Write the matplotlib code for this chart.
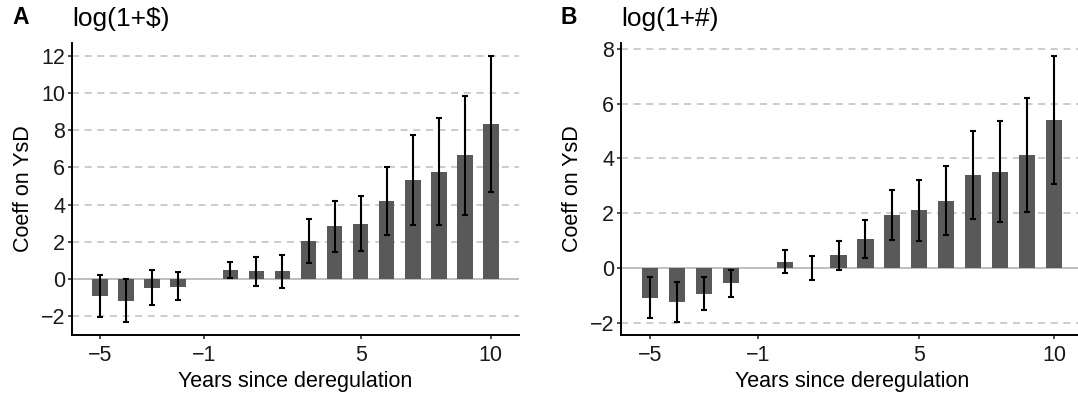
import matplotlib
matplotlib.use("Agg")
import matplotlib.pyplot as plt
import numpy as np

plt.rcParams['font.family'] = ['Liberation Sans', 'DejaVu Sans']

years = [-5, -4, -3, -2, 0, 1, 2, 3, 4, 5, 6, 7, 8, 9, 10]

# panel A: log(1+$)
coef_a = [-0.94, -1.19, -0.49, -0.43, 0.47, 0.41, 0.41, 2.02, 2.83, 2.97, 4.17, 5.35, 5.78, 6.69, 8.37]
lo_a = [-2.09, -2.32, -1.44, -1.17, 0.02, -0.41, -0.50, 0.83, 1.43, 1.49, 2.38, 2.92, 2.92, 3.45, 4.70]
hi_a = [0.22, 0.0, 0.47, 0.38, 0.90, 1.15, 1.28, 3.24, 4.20, 4.45, 6.0, 7.76, 8.66, 9.85, 12.0]

# panel B: log(1+#)
coef_b = [-1.08, -1.23, -0.94, -0.54, 0.24, 0.01, 0.49, 1.06, 1.94, 2.12, 2.45, 3.40, 3.50, 4.11, 5.40]
lo_b = [-1.81, -1.94, -1.52, -1.05, -0.18, -0.42, -0.07, 0.37, 1.04, 1.00, 1.22, 1.80, 1.68, 2.05, 3.07]
hi_b = [-0.33, -0.51, -0.33, -0.04, 0.67, 0.47, 1.00, 1.76, 2.84, 3.20, 3.72, 5.00, 5.36, 6.20, 7.72]

xticks = [-5, -1, 5, 10]
yticks_a = [-2, 0, 2, 4, 6, 8, 10, 12]
yticks_b = [-2, 0, 2, 4, 6, 8]

W, H = 1078, 398
fig = plt.figure(figsize=(W / 100, H / 100), dpi=100)


def panel(rect, coef, lo, hi, yticks, letter, title):
    ax = fig.add_axes(rect)
    x = np.array(years)
    c = np.array(coef)
    err = [c - np.array(lo), np.array(hi) - c]
    ax.bar(x, c, width=0.6, color='#595959', zorder=2)
    ax.errorbar(x, c, yerr=err, fmt='none', ecolor='black', elinewidth=1.5,
                capsize=2.2, capthick=1.5, zorder=3)
    # y range with 5% padding like ggplot
    ymin, ymax = min(lo), max(hi)
    pad = (ymax - ymin) * 0.05
    ax.set_ylim(ymin - pad, ymax + pad)
    ax.set_xlim(-6.08, 11.08)
    for t in yticks:
        if t != 0:
            ax.axhline(t, color='#c8c8c8', lw=1.3, ls=(0, (3.9, 3.1)), zorder=1)
    ax.axhline(0, color='#bebebe', lw=1.4, zorder=1)
    ax.set_xticks(xticks)
    ax.set_yticks(yticks)
    for s in ['top', 'right']:
        ax.spines[s].set_visible(False)
    for s in ['left', 'bottom']:
        ax.spines[s].set_linewidth(1.4)
        ax.spines[s].set_color('black')
    ax.tick_params(labelsize=15.5, length=3, width=1.2, color='#333333', pad=2,
                   labelcolor='#1a1a1a')
    ax.tick_params(axis='x', pad=4.2)
    ax.set_xlabel('Years since deregulation', fontsize=15.5, labelpad=3.5)
    ax.set_ylabel('Coeff on YsD', fontsize=15.5, labelpad=5)
    x0 = rect[0]
    fig.text(x0 - 60 / W, 1 - 24 / H, letter, fontsize=16.5, fontweight='bold', va='baseline')
    fig.text(x0, 1 - 26 / H, title, fontsize=19, va='baseline')
    return ax


bot = (H - 335) / H
hgt = (335 - 43) / H
panel([72 / W, bot, (519 - 72) / W, hgt], coef_a, lo_a, hi_a, yticks_a, 'A', 'log(1+$)')
panel([621 / W, bot, (1083 - 621) / W, hgt], coef_b, lo_b, hi_b, yticks_b, 'B', 'log(1+#)')

fig.savefig('out.png', dpi=100)
